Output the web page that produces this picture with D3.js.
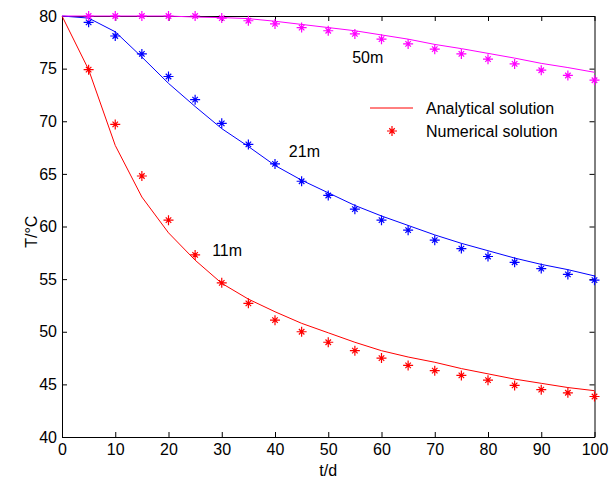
<!DOCTYPE html>
<html>
<head>
<meta charset="utf-8">
<script src="https://cdn.jsdelivr.net/npm/d3@7"></script>
<style>
  body { margin: 0; background: #fff; }
  svg { font-family: "Liberation Sans", Arial, sans-serif; }
</style>
</head>
<body>
<svg></svg>
<script>
var svg_width = 610;
var svg_height = 482;
var margin = {left: 62, right: 15, top: 16, bottom: 45};

// time in days
var t_num = [5, 10, 15, 20, 25, 30, 35, 40, 45, 50, 55, 60, 65, 70, 75, 80, 85, 90, 95, 100];
var t_ana = [0, 5, 10, 15, 20, 25, 30, 35, 40, 45, 50, 55, 60, 65, 70, 75, 80, 85, 90, 95, 100];

// analytical solutions (lines)
var ana_11m = [80, 74.9, 67.7, 62.8, 59.4, 56.8, 54.6, 53.1, 51.9, 50.8, 49.9, 49.0, 48.2, 47.6, 47.1, 46.5, 46.0, 45.5, 45.1, 44.7, 44.4];
var ana_21m = [80, 79.8, 78.5, 76.1, 73.6, 71.4, 69.3, 67.6, 65.8, 64.4, 63.2, 62.0, 61.0, 60.1, 59.2, 58.4, 57.7, 57.0, 56.4, 55.9, 55.3];
var ana_50m = [80, 80, 80, 80, 80, 79.9, 79.85, 79.75, 79.5, 79.2, 78.9, 78.6, 78.2, 77.8, 77.3, 76.9, 76.45, 76.0, 75.5, 75.1, 74.65];

// numerical solutions (markers)
var num_11m = [74.9, 69.7, 64.8, 60.6, 57.3, 54.65, 52.7, 51.1, 50.0, 49.0, 48.2, 47.5, 46.8, 46.3, 45.85, 45.4, 44.9, 44.5, 44.2, 43.85];
var num_21m = [79.4, 78.1, 76.4, 74.25, 72.05, 69.8, 67.8, 65.95, 64.3, 62.95, 61.65, 60.6, 59.65, 58.7, 57.9, 57.15, 56.6, 56.0, 55.45, 54.9];
var num_50m = [80, 80, 80, 80, 80, 79.8, 79.55, 79.25, 78.9, 78.6, 78.3, 77.8, 77.35, 76.85, 76.4, 75.9, 75.45, 74.85, 74.35, 73.9];

var series = [
  {name: '11m', color: '#ff0000', ana: ana_11m, num: num_11m, label_t: 28.2, label_T: 57.2},
  {name: '21m', color: '#0000ff', ana: ana_21m, num: num_21m, label_t: 42.6, label_T: 66.6},
  {name: '50m', color: '#ff00ff', ana: ana_50m, num: num_50m, label_t: 54.5, label_T: 75.5}
];

var x_ticks = [0, 10, 20, 30, 40, 50, 60, 70, 80, 90, 100];
var y_ticks = [40, 45, 50, 55, 60, 65, 70, 75, 80];
var legend_labels = ['Analytical solution', 'Numerical solution'];

var svg = d3.select('svg')
  .attr('width', svg_width)
  .attr('height', svg_height);

var xScale = d3.scaleLinear().domain([0, 100]).range([margin.left, svg_width - margin.right - 0.5]);
var yScale = d3.scaleLinear().domain([40, 80]).range([svg_height - margin.bottom, margin.top]);

// asterisk marker: plus + small cross
function star_path(r)  {
  var d = r * 0.55;
  return 'M' + (-r) + ',0H' + r + 'M0,' + (-r) + 'V' + r +
    'M' + (-d) + ',' + (-d) + 'L' + d + ',' + d + 'M' + (-d) + ',' + d + 'L' + d + ',' + (-d);
}

// axes, ticks pointing inward
function style_axis(g)  {
  g.selectAll('path.domain').attr('stroke', '#000').attr('stroke-width', 1);
  g.selectAll('.tick line').attr('stroke', '#000');
  g.selectAll('.tick text').attr('fill', '#000').attr('font-size', 16);
  g.attr('font-family', null);
}

svg.append('g')
  .attr('transform', 'translate(0,' + yScale(40) + ')')
  .call(d3.axisBottom(xScale).tickValues(x_ticks).tickSizeInner(-5).tickSizeOuter(0).tickPadding(7))
  .call(style_axis);
svg.append('g')
  .attr('transform', 'translate(0,' + yScale(80) + ')')
  .call(d3.axisTop(xScale).tickValues(x_ticks).tickSizeInner(-5).tickSizeOuter(0).tickFormat(''))
  .call(style_axis);
svg.append('g')
  .attr('transform', 'translate(' + xScale(0) + ',0)')
  .call(d3.axisLeft(yScale).tickValues(y_ticks).tickSizeInner(-5).tickSizeOuter(0).tickPadding(5))
  .call(style_axis);
svg.append('g')
  .attr('transform', 'translate(' + xScale(100) + ',0)')
  .call(d3.axisRight(yScale).tickValues(y_ticks).tickSizeInner(-5).tickSizeOuter(0).tickFormat(''))
  .call(style_axis);

var line = d3.line()
  .x(function(d) {return xScale(d[0]);})
  .y(function(d) {return yScale(d[1]);});

series.forEach(function(s)  {
  svg.append('path')
    .datum(d3.zip(t_ana, s.ana))
    .attr('d', line)
    .attr('fill', 'none')
    .attr('stroke', s.color)
    .attr('stroke-width', 1);

  svg.append('g')
    .selectAll('path')
    .data(d3.zip(t_num, s.num))
    .enter()
    .append('path')
    .attr('transform', function(d) {return 'translate(' + xScale(d[0]) + ',' + yScale(d[1]) + ')';})
    .attr('d', star_path(5))
    .attr('fill', 'none')
    .attr('stroke', s.color)
    .attr('stroke-width', 1.2);

  svg.append('text')
    .attr('x', xScale(s.label_t))
    .attr('y', yScale(s.label_T))
    .attr('font-size', 16)
    .text(s.name);
});

// legend
var leg = svg.append('g').attr('transform', 'translate(370,108)');
leg.append('line')
  .attr('x1', 0).attr('x2', 43).attr('y1', 0).attr('y2', 0)
  .attr('stroke', '#ff0000').attr('stroke-width', 1);
leg.append('path')
  .attr('transform', 'translate(22,23)')
  .attr('d', star_path(5))
  .attr('fill', 'none')
  .attr('stroke', '#ff0000')
  .attr('stroke-width', 1.2);
leg.selectAll('text')
  .data(legend_labels)
  .enter()
  .append('text')
  .attr('x', 56)
  .attr('y', function(d, i) {return 6 + i * 23;})
  .attr('font-size', 16)
  .text(function(d) {return d;});

// axis titles
svg.append('text')
  .attr('x', (xScale(0) + xScale(100)) / 2)
  .attr('y', 476)
  .attr('text-anchor', 'middle')
  .attr('font-size', 16)
  .text('t/d');

svg.append('text')
  .attr('transform', 'translate(37,' + yScale(59.5) + ') rotate(-90)')
  .attr('text-anchor', 'middle')
  .attr('font-size', 16)
  .text('T/\u00b0C');
</script>
</body>
</html>
